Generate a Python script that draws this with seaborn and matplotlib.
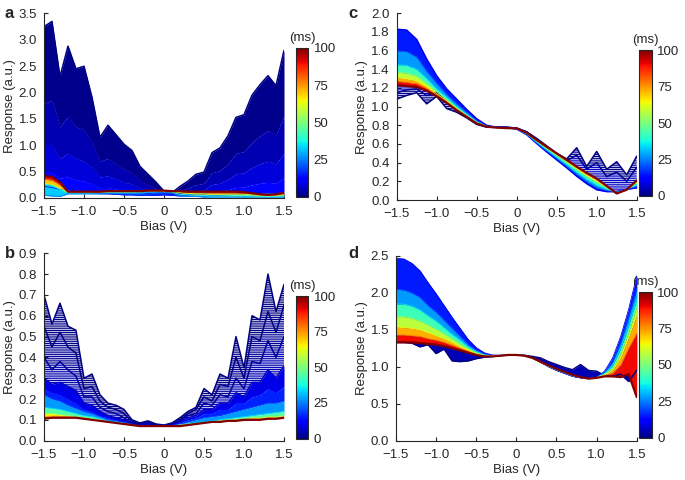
import matplotlib
matplotlib.use("Agg")
import matplotlib.pyplot as plt
from matplotlib import cm, colors
import seaborn as sns

# bias grids (V)
bias = [-1.5, -1.4, -1.3, -1.2, -1.1, -1.0, -0.9, -0.8, -0.7, -0.6, -0.5,
        -0.4, -0.3, -0.2, -0.1, 0.0, 0.1, 0.2, 0.3, 0.4, 0.5,
        0.6, 0.7, 0.8, 0.9, 1.0, 1.1, 1.2, 1.3, 1.4, 1.5]
bias_c = [-1.5, -1.375, -1.25, -1.125, -1.0, -0.875, -0.75, -0.625, -0.5,
          -0.375, -0.25, -0.125, 0.0, 0.125, 0.25, 0.375, 0.5, 0.625, 0.75,
          0.875, 1.0, 1.125, 1.25, 1.375, 1.5]

# panel a : response curves at selected times (ms)
times_a = [0, 3, 6, 10, 15, 25, 40, 60, 80, 100]
resp_a = [
    [3.25, 3.35, 2.30, 2.88, 2.45, 2.50, 1.91, 1.15, 1.38, 1.20, 1.02, 0.90, 0.60, 0.45, 0.30, 0.13,
     0.10, 0.22, 0.32, 0.45, 0.49, 0.86, 0.95, 1.18, 1.53, 1.58, 1.95, 2.15, 2.32, 2.13, 2.80],
    [1.80, 1.85, 1.35, 1.55, 1.35, 1.30, 1.05, 0.70, 0.75, 0.65, 0.55, 0.48, 0.33, 0.25, 0.18, 0.12,
     0.08, 0.14, 0.19, 0.25, 0.28, 0.48, 0.52, 0.65, 0.85, 0.88, 1.05, 1.18, 1.28, 1.20, 1.55],
    [1.00, 1.00, 0.75, 0.85, 0.75, 0.70, 0.58, 0.40, 0.42, 0.36, 0.30, 0.27, 0.19, 0.15, 0.11, 0.10,
     0.07, 0.09, 0.11, 0.14, 0.15, 0.26, 0.28, 0.35, 0.46, 0.48, 0.58, 0.65, 0.70, 0.65, 0.85],
    [0.50, 0.48, 0.38, 0.40, 0.35, 0.32, 0.27, 0.20, 0.20, 0.17, 0.14, 0.13, 0.10, 0.08, 0.07, 0.08,
     0.06, 0.06, 0.07, 0.08, 0.08, 0.12, 0.13, 0.16, 0.20, 0.21, 0.25, 0.28, 0.30, 0.28, 0.38],
    [0.22, 0.20, 0.16, 0.15, 0.13, 0.12, 0.10, 0.08, 0.08, 0.07, 0.06, 0.06, 0.05, 0.05, 0.05, 0.06,
     0.05, 0.04, 0.04, 0.04, 0.04, 0.05, 0.05, 0.06, 0.07, 0.07, 0.08, 0.09, 0.10, 0.09, 0.12],
    [0.05, 0.04, 0.03, 0.08, 0.08, 0.08, 0.08, 0.08, 0.09, 0.09, 0.09, 0.09, 0.09, 0.10, 0.10, 0.10,
     0.09, 0.04, 0.03, 0.03, 0.02, 0.02, 0.02, 0.02, 0.02, 0.02, 0.02, 0.02, 0.02, 0.02, 0.02],
    [0.26, 0.24, 0.16, 0.10, 0.10, 0.10, 0.10, 0.10, 0.11, 0.11, 0.11, 0.11, 0.11, 0.12, 0.12, 0.12,
     0.11, 0.07, 0.06, 0.05, 0.05, 0.04, 0.04, 0.04, 0.04, 0.04, 0.04, 0.03, 0.03, 0.03, 0.04],
    [0.28, 0.26, 0.19, 0.11, 0.11, 0.11, 0.11, 0.11, 0.12, 0.12, 0.12, 0.12, 0.12, 0.13, 0.13, 0.13,
     0.12, 0.10, 0.09, 0.08, 0.08, 0.07, 0.07, 0.07, 0.07, 0.07, 0.06, 0.05, 0.04, 0.05, 0.06],
    [0.36, 0.34, 0.25, 0.115, 0.115, 0.115, 0.115, 0.115, 0.125, 0.125, 0.125, 0.125, 0.125, 0.135, 0.135, 0.135,
     0.125, 0.12, 0.11, 0.11, 0.10, 0.10, 0.10, 0.10, 0.10, 0.09, 0.08, 0.06, 0.05, 0.06, 0.08],
    [0.42, 0.40, 0.30, 0.12, 0.12, 0.12, 0.12, 0.12, 0.13, 0.13, 0.13, 0.13, 0.13, 0.14, 0.14, 0.14,
     0.13, 0.13, 0.12, 0.12, 0.12, 0.12, 0.12, 0.12, 0.12, 0.11, 0.09, 0.07, 0.06, 0.07, 0.10],
]

# panel b
times_b = [0, 1, 3, 6, 12, 20, 35, 55, 75, 100]
resp_b = [
    [0.70, 0.56, 0.66, 0.55, 0.53, 0.30, 0.32, 0.22, 0.18, 0.17, 0.15, 0.10, 0.085, 0.095, 0.08, 0.075,
     0.085, 0.11, 0.14, 0.16, 0.25, 0.22, 0.32, 0.30, 0.50, 0.35, 0.60, 0.58, 0.80, 0.62, 0.75],
    [0.55, 0.45, 0.52, 0.45, 0.42, 0.25, 0.26, 0.19, 0.16, 0.15, 0.13, 0.09, 0.08, 0.09, 0.075, 0.07,
     0.08, 0.10, 0.13, 0.15, 0.21, 0.19, 0.27, 0.26, 0.40, 0.30, 0.50, 0.48, 0.62, 0.52, 0.65],
    [0.40, 0.34, 0.38, 0.34, 0.31, 0.21, 0.21, 0.16, 0.14, 0.13, 0.11, 0.085, 0.075, 0.085, 0.07, 0.07,
     0.08, 0.095, 0.12, 0.13, 0.18, 0.17, 0.22, 0.21, 0.30, 0.25, 0.38, 0.37, 0.48, 0.40, 0.50],
    [0.30, 0.27, 0.28, 0.26, 0.24, 0.18, 0.17, 0.14, 0.12, 0.11, 0.10, 0.08, 0.075, 0.08, 0.07, 0.07,
     0.075, 0.09, 0.11, 0.12, 0.15, 0.15, 0.18, 0.18, 0.23, 0.21, 0.28, 0.28, 0.34, 0.30, 0.36],
    [0.25, 0.23, 0.22, 0.20, 0.18, 0.15, 0.14, 0.12, 0.11, 0.10, 0.09, 0.08, 0.07, 0.075, 0.07, 0.07,
     0.075, 0.085, 0.10, 0.11, 0.13, 0.13, 0.15, 0.15, 0.18, 0.18, 0.21, 0.22, 0.25, 0.23, 0.26],
    [0.22, 0.20, 0.19, 0.17, 0.155, 0.14, 0.13, 0.115, 0.10, 0.095, 0.085, 0.08, 0.07, 0.07, 0.07, 0.07,
     0.072, 0.08, 0.09, 0.10, 0.11, 0.115, 0.12, 0.13, 0.14, 0.15, 0.16, 0.17, 0.18, 0.18, 0.19],
    [0.16, 0.155, 0.15, 0.14, 0.13, 0.12, 0.115, 0.105, 0.095, 0.09, 0.085, 0.075, 0.07, 0.07, 0.07, 0.07,
     0.07, 0.075, 0.08, 0.085, 0.09, 0.095, 0.10, 0.105, 0.11, 0.115, 0.12, 0.125, 0.13, 0.135, 0.14],
    [0.13, 0.13, 0.125, 0.12, 0.115, 0.11, 0.105, 0.10, 0.09, 0.085, 0.08, 0.075, 0.07, 0.07, 0.07, 0.07,
     0.07, 0.075, 0.08, 0.08, 0.085, 0.09, 0.095, 0.10, 0.10, 0.105, 0.11, 0.11, 0.115, 0.115, 0.12],
    [0.115, 0.118, 0.117, 0.115, 0.112, 0.107, 0.102, 0.097, 0.09, 0.085, 0.08, 0.075, 0.07, 0.07, 0.07, 0.07,
     0.07, 0.072, 0.077, 0.08, 0.085, 0.09, 0.092, 0.097, 0.097, 0.102, 0.104, 0.104, 0.109, 0.109, 0.114],
    [0.105, 0.11, 0.11, 0.11, 0.11, 0.105, 0.10, 0.095, 0.09, 0.085, 0.08, 0.075, 0.07, 0.07, 0.07, 0.07,
     0.07, 0.07, 0.075, 0.08, 0.085, 0.09, 0.09, 0.095, 0.095, 0.10, 0.10, 0.10, 0.105, 0.105, 0.11],
]

# panel c
times_c = [0, 2, 10, 20, 35, 50, 65, 80, 100]
resp_c = [
    [1.08, 1.12, 1.15, 1.03, 1.11, 0.98, 0.94, 0.88, 0.81, 0.78, 0.78, 0.78, 0.77,
     0.73, 0.66, 0.58, 0.50, 0.44, 0.56, 0.36, 0.52, 0.33, 0.41, 0.27, 0.47],
    [1.15, 1.18, 1.19, 1.12, 1.15, 1.05, 0.97, 0.90, 0.82, 0.785, 0.78, 0.78, 0.77,
     0.73, 0.65, 0.57, 0.49, 0.42, 0.48, 0.33, 0.40, 0.25, 0.30, 0.20, 0.35],
    [1.83, 1.82, 1.72, 1.51, 1.33, 1.19, 1.08, 0.97, 0.87, 0.80, 0.78, 0.775, 0.76,
     0.70, 0.605, 0.515, 0.43, 0.345, 0.255, 0.175, 0.11, 0.09, 0.09, 0.115, 0.13],
    [1.60, 1.59, 1.53, 1.38, 1.25, 1.13, 1.03, 0.94, 0.85, 0.794, 0.778, 0.773, 0.763,
     0.703, 0.61, 0.524, 0.442, 0.359, 0.274, 0.195, 0.13, 0.10, 0.087, 0.114, 0.144],
    [1.45, 1.44, 1.40, 1.30, 1.19, 1.10, 1.00, 0.92, 0.84, 0.79, 0.777, 0.772, 0.765,
     0.708, 0.62, 0.538, 0.459, 0.381, 0.299, 0.223, 0.16, 0.115, 0.082, 0.112, 0.164],
    [1.37, 1.36, 1.33, 1.25, 1.16, 1.075, 0.988, 0.908, 0.832, 0.788, 0.776, 0.771, 0.766,
     0.713, 0.63, 0.552, 0.477, 0.402, 0.324, 0.252, 0.19, 0.13, 0.077, 0.111, 0.184],
    [1.31, 1.30, 1.276, 1.214, 1.139, 1.06, 0.976, 0.90, 0.826, 0.787, 0.776, 0.771, 0.767,
     0.717, 0.636, 0.561, 0.488, 0.416, 0.34, 0.27, 0.21, 0.14, 0.073, 0.11, 0.196],
    [1.27, 1.26, 1.246, 1.194, 1.125, 1.05, 0.968, 0.896, 0.824, 0.786, 0.775, 0.77, 0.768,
     0.718, 0.64, 0.566, 0.494, 0.423, 0.349, 0.281, 0.22, 0.145, 0.072, 0.11, 0.203],
    [1.23, 1.22, 1.21, 1.17, 1.11, 1.04, 0.96, 0.89, 0.82, 0.785, 0.775, 0.77, 0.768,
     0.72, 0.643, 0.57, 0.50, 0.43, 0.357, 0.29, 0.23, 0.15, 0.07, 0.11, 0.21],
]

# panel d
times_d = [0, 10, 20, 35, 50, 65, 80, 100]
resp_d = [
    [1.33, 1.33, 1.32, 1.27, 1.30, 1.18, 1.24, 1.08, 1.07, 1.08, 1.11, 1.13, 1.14, 1.15, 1.16, 1.16,
     1.155, 1.14, 1.12, 1.07, 1.03, 0.99, 0.96, 1.03, 0.95, 0.94, 0.88, 0.87, 0.90, 0.80, 0.95],
    [2.47, 2.46, 2.40, 2.30, 2.14, 1.99, 1.83, 1.67, 1.52, 1.37, 1.26, 1.19, 1.16, 1.155, 1.16, 1.165,
     1.155, 1.12, 1.06, 1.00, 0.95, 0.91, 0.87, 0.85, 0.84, 0.86, 0.94, 1.12, 1.41, 1.78, 2.23],
    [2.05, 2.04, 2.00, 1.94, 1.83, 1.74, 1.63, 1.52, 1.41, 1.30, 1.22, 1.17, 1.15, 1.152, 1.16, 1.163,
     1.153, 1.12, 1.062, 1.003, 0.953, 0.913, 0.873, 0.852, 0.84, 0.858, 0.93, 1.07, 1.33, 1.68, 2.05],
    [1.85, 1.85, 1.82, 1.77, 1.69, 1.62, 1.53, 1.44, 1.36, 1.27, 1.21, 1.163, 1.149, 1.152, 1.16, 1.162,
     1.152, 1.12, 1.065, 1.008, 0.958, 0.918, 0.877, 0.855, 0.84, 0.856, 0.91, 1.02, 1.25, 1.56, 1.92],
    [1.68, 1.68, 1.66, 1.62, 1.57, 1.51, 1.45, 1.38, 1.31, 1.25, 1.19, 1.155, 1.146, 1.151, 1.16, 1.161,
     1.151, 1.12, 1.067, 1.013, 0.963, 0.923, 0.883, 0.857, 0.84, 0.853, 0.90, 0.98, 1.18, 1.47, 1.82],
    [1.54, 1.53, 1.52, 1.50, 1.46, 1.42, 1.38, 1.33, 1.27, 1.22, 1.178, 1.149, 1.144, 1.151, 1.16, 1.161,
     1.151, 1.12, 1.068, 1.016, 0.966, 0.926, 0.886, 0.858, 0.84, 0.852, 0.89, 0.95, 1.12, 1.40, 1.70],
    [1.43, 1.43, 1.42, 1.41, 1.38, 1.36, 1.33, 1.29, 1.25, 1.21, 1.169, 1.144, 1.142, 1.15, 1.16, 1.16,
     1.15, 1.12, 1.069, 1.018, 0.968, 0.928, 0.888, 0.859, 0.84, 0.851, 0.88, 0.91, 1.02, 1.25, 1.45],
    [1.33, 1.33, 1.33, 1.32, 1.31, 1.30, 1.28, 1.25, 1.22, 1.19, 1.16, 1.14, 1.14, 1.15, 1.16, 1.16,
     1.15, 1.12, 1.07, 1.02, 0.97, 0.93, 0.89, 0.86, 0.84, 0.85, 0.87, 0.87, 0.86, 0.90, 0.59],
]

bias_ticks = [-1.5, -1.0, -0.5, 0, 0.5, 1.0, 1.5]
bias_labels = ["\u22121.5", "\u22121.0", "\u22120.5", "0", "0.5", "1.0", "1.5"]
cbar_ticks = [0, 25, 50, 75, 100]

sns.set_style("ticks", {"xtick.direction": "in", "ytick.direction": "in"})
plt.rcParams["font.family"] = ["Liberation Sans", "DejaVu Sans"]
plt.rcParams["hatch.linewidth"] = 0.8

cmap = plt.get_cmap("jet")
norm = colors.Normalize(0, 100)
fs = 9.5

fig = plt.figure(figsize=(6.85, 4.8), dpi=100)

panels = [
    # letter, x, times, curves, ymax, ystep, hatched bands, axes rect, cbar rect, letter pos
    ("a", bias, times_a, resp_a, 3.5, 0.5, 0, [0.0642, 0.5875, 0.3504, 0.3844], [0.432, 0.5896, 0.018, 0.3104], (0.007, 0.972)),
    ("b", bias, times_b, resp_b, 0.9, 0.1, 3, [0.0642, 0.082, 0.3504, 0.3903], [0.432, 0.0862, 0.018, 0.297], (0.007, 0.472)),
    ("c", bias_c, times_c, resp_c, 2.0, 0.2, 2, [0.5791, 0.5833, 0.3504, 0.389], [0.9335, 0.5917, 0.018, 0.304], (0.508, 0.972)),
    ("d", bias, times_d, resp_d, 2.5, 0.5, 0, [0.578, 0.082, 0.3515, 0.3847], [0.9335, 0.0883, 0.018, 0.303], (0.508, 0.472)),
]

for letter, x, times, curves, ymax, ystep, hatched, rect, crect, lpos in panels:
    ax = fig.add_axes(rect)
    for i in range(len(times)):
        if i > 0:
            col = cmap(norm((times[i - 1] + times[i]) / 2))
            if i <= hatched:
                ax.fill_between(x, curves[i - 1], curves[i], facecolor="none",
                                edgecolor=col, hatch="-" * 9, linewidth=0)
            else:
                ax.fill_between(x, curves[i - 1], curves[i], color=col, linewidth=0)
        lw = 1.6 if i == len(times) - 1 else (1.1 if i <= hatched else 0.6)
        sns.lineplot(x=x, y=curves[i], color=cmap(norm(times[i])), linewidth=lw,
                     ax=ax, sort=False, legend=False)
    ax.set_xlim(-1.5, 1.5)
    ax.set_ylim(0, ymax)
    ax.set_xticks(bias_ticks)
    ax.set_xticklabels(bias_labels)
    nt = int(round(ymax / ystep))
    yt = [round(k * ystep, 2) for k in range(nt + 1)]
    ax.set_yticks(yt)
    ax.set_yticklabels([f"{v:.1f}" for v in yt])
    ax.tick_params(labelsize=fs, length=3, width=0.8, direction="in")
    ax.tick_params(axis="x", pad=6)
    ax.tick_params(axis="y", pad=5)
    for s in ax.spines.values():
        s.set_linewidth(0.8)
    sns.despine(ax=ax)
    ax.set_xlabel("Bias (V)", fontsize=fs, labelpad=2)
    ax.set_ylabel("Response (a.u.)", fontsize=fs, labelpad=2)
    fig.text(lpos[0], lpos[1], letter, fontsize=12, fontweight="bold", va="center")

    cax = fig.add_axes(crect)
    sm = cm.ScalarMappable(norm=norm, cmap=cmap)
    cb = fig.colorbar(sm, cax=cax, ticks=cbar_ticks)
    cb.ax.tick_params(length=0, labelsize=fs, pad=4)
    cb.outline.set_linewidth(0.8)
    cax.set_title("(ms)", fontsize=fs, pad=5)

fig.savefig("out.png", dpi=100)
